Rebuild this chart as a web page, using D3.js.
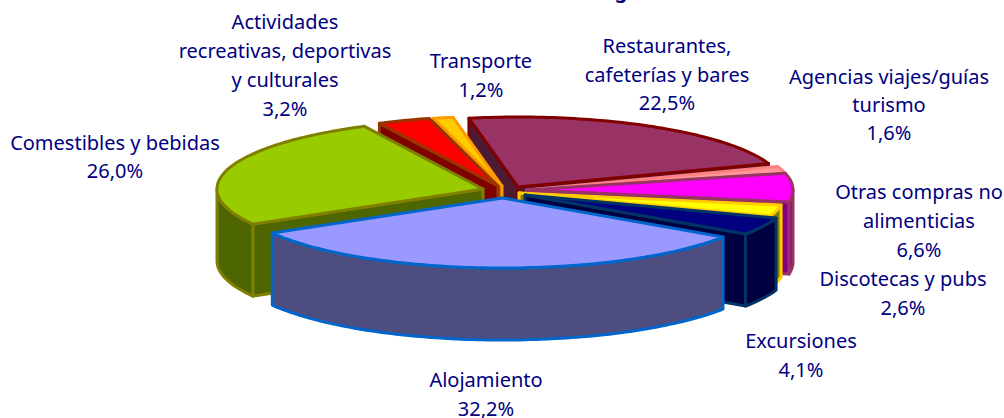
<!DOCTYPE html>
<html><head><meta charset="utf-8">
<script src="https://cdn.jsdelivr.net/npm/d3@7/dist/d3.min.js"></script>
<style>html,body{margin:0;padding:0;background:#fff;overflow:hidden}svg{display:block}</style>
</head><body><svg id="c" width="1004" height="418"></svg>
<script>
const categories = ["Alojamiento","Comestibles y bebidas","Actividades recreativas, deportivas y culturales","Transporte","Restaurantes, cafeterías y bares","Agencias viajes/guías turismo","Otras compras no alimenticias","Discotecas y pubs","Excursiones"];
const shares = [32.2,26.0,3.2,1.2,22.5,1.6,6.6,2.6,4.1];
const valueLabels = ["32,2%","26,0%","3,2%","1,2%","22,5%","1,6%","6,6%","2,6%","4,1%"];

const topFill  = ["#9999ff","#99cc00","#ff0000","#ffcc00","#993366","#ff9999","#ff00ff","#ffff00","#000080"];
const wallFill = ["#4d4d80","#4d6600","#800000","#806600","#4d1a33","#804d4d","#800080","#808000","#000040"];
const edge     = ["#0066cc","#808000","#993300","#ff9900","#800000","#ff8080","#993366","#ffcc00","#003366"];
// explosion: centre of each slice on the page
const apexX = [502.5,483,498,502,518,527,527,519,525];
const apexY = [198,189,186,186,187,190,190,193,195];
const drawOrder = [4,3,2,1,5,6,7,8,0];
const labelLines = [["Alojamiento"],["Comestibles y bebidas"],["Actividades","recreativas, deportivas","y culturales"],["Transporte"],["Restaurantes,","cafeterías y bares"],["Agencias viajes/guías","turismo"],["Otras compras no","alimenticias"],["Discotecas y pubs"],["Excursiones"]];
const labelX = [486,115,285,481,667,889,919,903,801];
const labelY = [387,150,29,68,53,84,199,286,348];
const labelStep = [29,28,29,29,28.5,28,29,29,29];

const RX=266, RY=70, DEPTH=72;
const sx=d3.scaleLinear().domain([-1,1]).range([-RX,RX]);
const sy=d3.scaleLinear().domain([-1,1]).range([-RY,RY]);
const start=124*Math.PI/180;
const arcs=d3.pie().sort(null).startAngle(start).endAngle(start+2*Math.PI)(shares);
const svg=d3.select("#c");
const pt=(i,a,dz=0)=>[apexX[i]+sx(Math.sin(a)),apexY[i]+sy(-Math.cos(a))+dz];
const poly=p=>"M"+p.map(q=>q[0].toFixed(1)+","+q[1].toFixed(1)).join("L")+"Z";
function arcPts(i,a0,a1,dz){const n=Math.max(2,Math.ceil(Math.abs(a1-a0)/0.02));return d3.range(n+1).map(k=>pt(i,a0+(a1-a0)*k/n,dz));}
const TAU=2*Math.PI;
drawOrder.forEach(i=>{
  const d=arcs[i],g=svg.append("g").attr("stroke",edge[i]).attr("stroke-width",3).attr("stroke-linejoin","round");
  const A=[apexX[i],apexY[i]],B=[apexX[i],apexY[i]+DEPTH];
  // radial walls: only those whose outward normal faces the viewer
  [[d.startAngle,d.startAngle-Math.PI/2],[d.endAngle,d.endAngle+Math.PI/2]].forEach(([a,n])=>{
    if(-Math.cos(n)>0) g.append("path").attr("fill",wallFill[i]).attr("d",poly([A,pt(i,a),pt(i,a,DEPTH),B]));
  });
  // outer wall: the part of the rim facing the viewer (90deg..270deg, modulo a turn)
  [0,TAU].forEach(sh=>{
    const a0=Math.max(d.startAngle,Math.PI/2+sh),a1=Math.min(d.endAngle,1.5*Math.PI+sh);
    if(a1>a0){
      g.append("path").attr("fill",wallFill[i]).attr("d",poly(arcPts(i,a0,a1,0).concat(arcPts(i,a1,a0,DEPTH))));
    }
  });
  g.append("path").attr("fill",topFill[i]).attr("d",poly([A].concat(arcPts(i,d.startAngle,d.endAngle,0))));
});
const FONT='"Noto Sans"';
const lab=svg.append("g").attr("fill","#000080").attr("font-family",FONT).attr("font-size",20).attr("text-anchor","middle");
categories.forEach((c,i)=>{
  labelLines[i].concat([valueLabels[i]]).forEach((t,k)=>{
    lab.append("text").attr("x",labelX[i]).attr("y",labelY[i]+k*labelStep[i]).text(t);
  });
});
svg.append("text").attr("x",621).attr("y",-2).attr("text-anchor","middle").attr("fill","#000080").attr("font-family",FONT).attr("font-size",20).attr("font-weight","bold").text("g");
</script></body></html>
